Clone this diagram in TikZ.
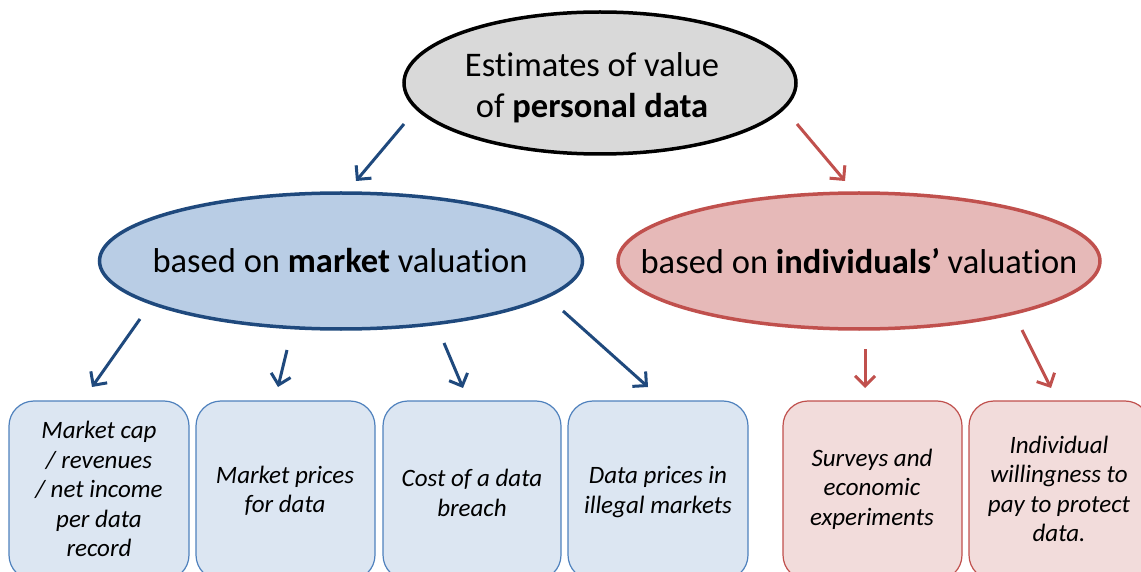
\documentclass[tikz,border=0pt]{standalone}
\usepackage{fontspec}
\setmainfont{Carlito}[Ligatures=NoCommon]
\usetikzlibrary{arrows.meta,shapes.geometric}
\definecolor{bluearr}{HTML}{1F497D}
\definecolor{blueell}{HTML}{B9CDE5}
\definecolor{bluebox}{HTML}{DCE6F2}
\definecolor{blueboxline}{HTML}{4F81BD}
\definecolor{redarr}{HTML}{C0504D}
\definecolor{redell}{HTML}{E6B9B8}
\definecolor{redbox}{HTML}{F2DCDB}
\definecolor{grayell}{HTML}{D9D9D9}
\tikzset{
  ell/.style={ellipse, inner sep=0pt},
  elltext/.style={align=center, inner sep=0pt, font=\fontsize{34.5}{41}\selectfont},
  topell/.style={ell, fill=grayell, draw=black, line width=3.5pt, minimum width=392pt, minimum height=142pt},
  blueellipse/.style={ell, fill=blueell, draw=bluearr, line width=3.5pt, minimum width=483pt, minimum height=136pt},
  redellipse/.style={ell, fill=redell, draw=redarr, line width=3.5pt, minimum width=482pt, minimum height=136pt},
  boxbase/.style={rounded corners=25pt, line width=1.2pt},
  boxtext/.style={align=center, inner sep=0pt, font=\fontsize{25}{29.5}\selectfont\itshape},
  bluebx/.style={boxbase, fill=bluebox, draw=blueboxline},
  redbx/.style={boxbase, fill=redbox, draw=redarr},
  barrow/.style={draw=bluearr, line width=3pt, -{Straight Barb[length=10pt,width=20pt]}},
  rarrow/.style={draw=redarr, line width=3pt, -{Straight Barb[length=10pt,width=20pt]}},
}
\begin{document}
\begin{tikzpicture}[x=1pt,y=-1pt]
\useasboundingbox (0,0) rectangle (1141,572);
\clip (0,0) rectangle (1141,572);
% ellipses
\node[topell] (top) at (600,83) {};
\node[elltext] (toptext) at (592,88) {Estimates of value\\of \textbf{personal data}};
\node[blueellipse] (market) at (341,261) {};
\node[elltext] (markettext) at (340,261) {based on \textbf{market} valuation};
\node[redellipse] (indiv) at (859,261) {};
\node[elltext] (indivtext) at (859,261) {based on \textbf{individuals’} valuation};
% boxes
\path[bluebx] (9,401) rectangle (189,580);
\path[bluebx] (196,401) rectangle (375,580);
\path[bluebx] (383,401) rectangle (561,580);
\path[bluebx] (568,401) rectangle (748,580);
\path[redbx] (783,401) rectangle (962,580);
\path[redbx] (969,401) rectangle (1150,580);
\node[boxtext] (b1) at (99,489) {Market cap\\/ revenues\\/ net income\\per data\\record};
\node[boxtext] (b2) at (285,491) {Market prices\\for data};
\node[boxtext] (b3) at (472,493) {Cost of a data\\breach};
\node[boxtext] (b4) at (658,492) {Data prices in\\illegal markets};
\node[boxtext] (b5) at (872,489) {Surveys and\\economic\\experiments};
\node[boxtext] (b6) at (1059,489) {Individual\\willingness to\\pay to protect\\data.};
% arrow end points
\coordinate (a1s) at (404,124); \coordinate (a1e) at (356,181);
\coordinate (a2s) at (797,124); \coordinate (a2e) at (845,181);
\coordinate (a3s) at (140,319); \coordinate (a3e) at (92,387);
\coordinate (a4s) at (287,350); \coordinate (a4e) at (278,387);
\coordinate (a5s) at (444,343); \coordinate (a5e) at (463,388);
\coordinate (a6s) at (563,311); \coordinate (a6e) at (648,387);
\coordinate (a7s) at (865,349); \coordinate (a7e) at (865,388);
\coordinate (a8s) at (1022,330); \coordinate (a8e) at (1051,388);
\draw[barrow] (a1s) -- (a1e);
\draw[rarrow] (a2s) -- (a2e);
\draw[barrow] (a3s) -- (a3e);
\draw[barrow] (a4s) -- (a4e);
\draw[barrow] (a5s) -- (a5e);
\draw[barrow] (a6s) -- (a6e);
\draw[rarrow] (a7s) -- (a7e);
\draw[rarrow] (a8s) -- (a8e);
\end{tikzpicture}
\end{document}
